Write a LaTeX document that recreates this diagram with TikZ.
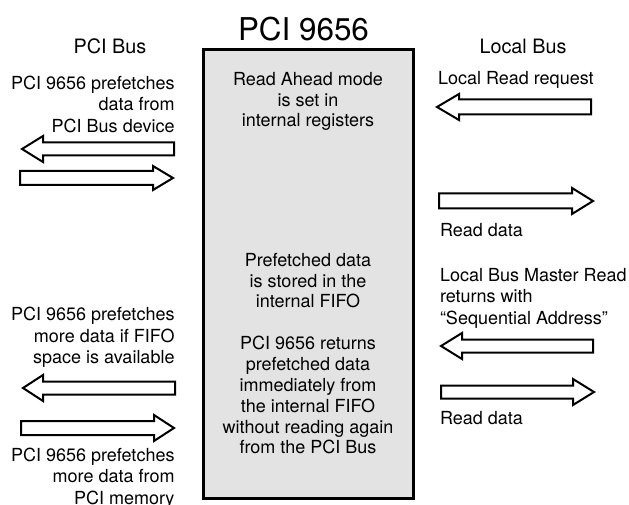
\documentclass[tikz,border=0pt]{standalone}
\usepackage{fontspec}
\setmainfont{TeX Gyre Heros}
\tikzset{
  x=1pt,y=-1pt,
  lbl/.style={inner sep=0pt,outer sep=0pt,font=\fontsize{18}{21.5}\selectfont},
  lblr/.style={lbl,anchor=north east,align=right},
  lbll/.style={lbl,anchor=north west,align=left},
  lblc/.style={lbl,anchor=north,align=center,font=\fontsize{18}{20.9}\selectfont},
  head/.style={inner sep=0pt,outer sep=0pt,anchor=base,font=\fontsize{19.8}{24}\selectfont},
  title/.style={inner sep=0pt,outer sep=0pt,anchor=base,font=\fontsize{31.4}{36}\selectfont},
  chip/.style={draw=black,fill=black!11,line width=3pt,line join=miter},
  blockarrow/.style={draw=black,fill=white,line width=2pt,line join=miter},
}
\newcommand{\blockarrowpath}[6]{% tip x, y, base x, half head, half shaft, tail x
  \draw[blockarrow] (#1,#2) -- (#3,#2-#4) -- (#3,#2-#5) -- (#6,#2-#5) -- (#6,#2+#5) -- (#3,#2+#5) -- (#3,#2+#4) -- cycle;}
\begin{document}
\begin{tikzpicture}
\useasboundingbox (0,0) rectangle (629,505);
\draw[chip] (203.5,50) rectangle (413,498);
\node[title] (t) at (303.5,41) {PCI 9656};
\node[head] (hl) at (110,54) {PCI Bus};
\node[head] (hr) at (523,54) {Local Bus};
\node[lblr] (l1) at (174.5,76) {PCI 9656 prefetches\\data from\\PCI Bus device};
\node[lblr] (l2) at (174.5,307.5) {PCI 9656 prefetches\\more data if FIFO\\space is available};
\node[lblr] (l3) at (174.5,448) {PCI 9656 prefetches\\more data from\\PCI memory};
\node[lblc] (c1) at (308,72) {Read Ahead mode\\is set in\\internal registers};
\node[lblc] (c2) at (308,253) {Prefetched data\\is stored in the\\internal FIFO};
\node[lblc] (c3) at (308,336) {PCI 9656 returns\\prefetched data\\immediately from\\the internal FIFO\\without reading again\\from the PCI Bus};
\node[lbll] (r1) at (438,71) {Local Read request};
\node[lbll] (r2) at (440,223) {Read data};
\node[lbll] (r3) at (440,268) {Local Bus Master Read\\returns with\\“Sequential Address”};
\node[lbll] (r4) at (440,411) {Read data};
\blockarrowpath{22}{149}{43}{13}{6.5}{174}
\blockarrowpath{173}{178}{153}{12}{7}{20}
\blockarrowpath{23}{388}{43}{13}{6.5}{175}
\blockarrowpath{174}{428}{154}{13}{7}{21}
\blockarrowpath{437}{107}{459}{13}{7.5}{591}
\blockarrowpath{593}{201}{572}{13}{7.5}{439}
\blockarrowpath{441}{346}{462}{13}{6.5}{593}
\blockarrowpath{594}{392}{573}{13}{6.5}{441}
\end{tikzpicture}
\end{document}
